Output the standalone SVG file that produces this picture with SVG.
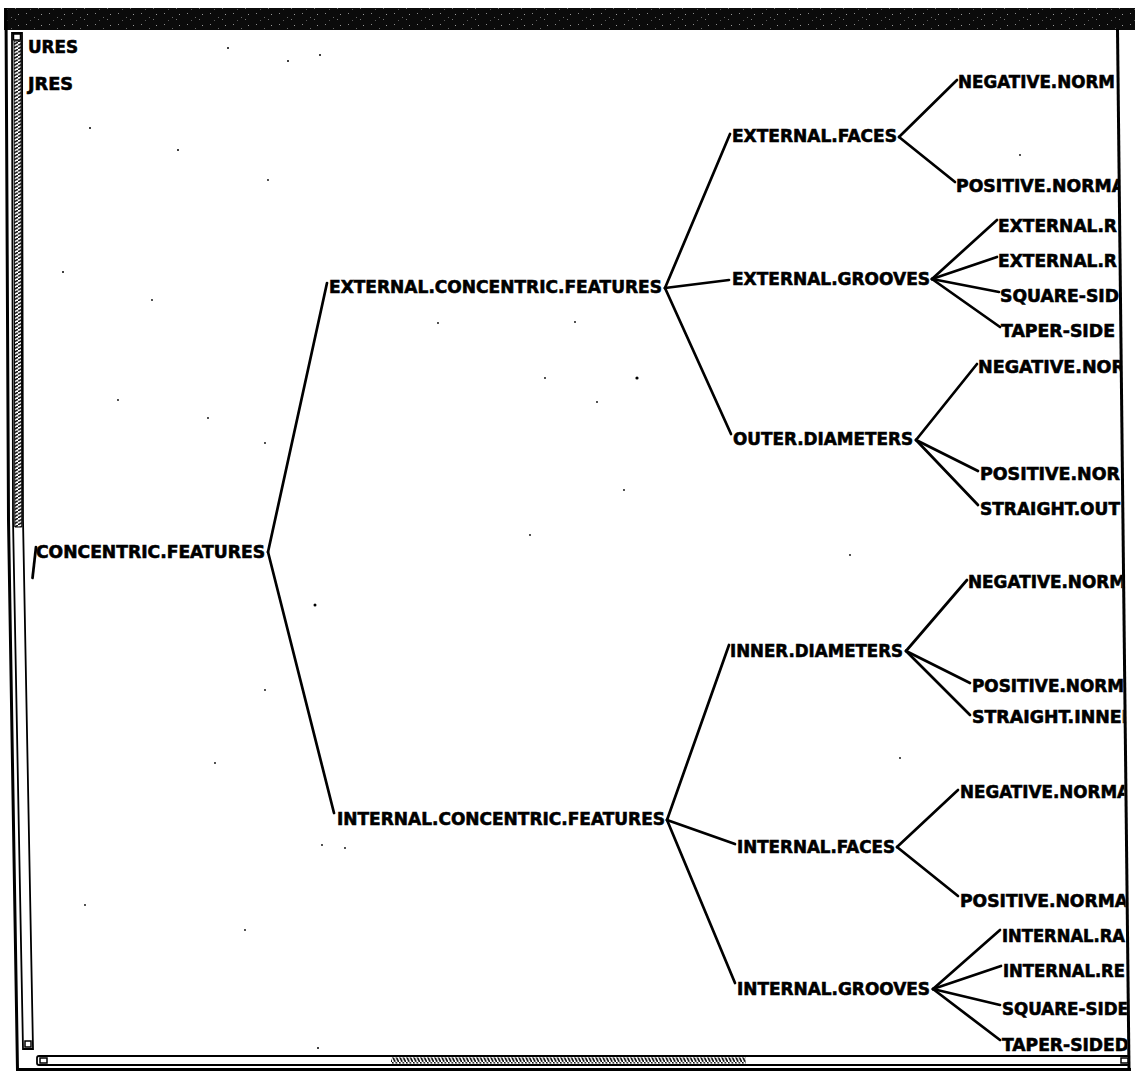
<svg xmlns="http://www.w3.org/2000/svg" width="1135" height="1073" viewBox="0 0 1135 1073">
  <style>
    .lbl { font-family: "DejaVu Sans", "Liberation Sans", sans-serif; font-weight: bold; font-size: 17px; fill: #000; stroke: #000; stroke-width: 0.6; }
    .edge { stroke: #000; stroke-width: 2.7; fill: none; stroke-linecap: round; }
    .frame { stroke: #000; fill: none; stroke-width: 3; }
    .track { stroke: #000; fill: #fff; stroke-width: 1.8; }
    .speck { fill: #000; }
  </style>
  <defs>
    <pattern id="grain" width="23" height="11" patternUnits="userSpaceOnUse">
      <rect width="23" height="11" fill="#0b0b0b"/>
      <rect x="3" y="2" width="1" height="1" fill="#8a8a8a"/>
      <rect x="11" y="6" width="1" height="1" fill="#6a6a6a"/>
      <rect x="18" y="3" width="1" height="1" fill="#9a9a9a"/>
      <rect x="7" y="9" width="1" height="1" fill="#5a5a5a"/>
      <rect x="15" y="8" width="1" height="1" fill="#777"/>
    </pattern>
    <pattern id="hatchV" width="6" height="3.5" patternUnits="userSpaceOnUse">
      <rect width="6" height="3.5" fill="#fff"/>
      <path d="M0,3.2 L6,0.3" stroke="#000" stroke-width="1.6"/>
    </pattern>
    <pattern id="hatchH" width="3.5" height="6" patternUnits="userSpaceOnUse">
      <rect width="3.5" height="6" fill="#fff"/>
      <path d="M0.3,0 L3.2,6" stroke="#000" stroke-width="1.6"/>
    </pattern>
    <clipPath id="pane">
      <polygon points="0,0 1116,0 1127.5,1073 0,1073"/>
    </clipPath>
  </defs>

  <rect width="1135" height="1073" fill="#fff"/>

  <!-- window frame -->
  <g id="window-frame">
    <rect x="4" y="8" width="1131" height="22" fill="url(#grain)"/>
    <polyline class="frame" points="6,8 8.5,520 17.5,1070"/>
    <line class="frame" x1="1117.5" y1="29" x2="1129" y2="1069"/>
    <line class="frame" x1="16" y1="1069.5" x2="1131" y2="1069.5"/>
  </g>

  <!-- vertical scroll bar -->
  <g id="scrollbar-vertical">
    <polygon class="track" points="12,33 22,33 23,520 33,1049 23,1049 13,520"/>
    <polygon points="14,41 21,41 21.8,527 14.8,527" fill="url(#hatchV)" stroke="#000" stroke-width="1"/>
    <rect x="13.5" y="34" width="7" height="6" fill="#fff" stroke="#000" stroke-width="1.5"/>
    <rect x="25" y="1041" width="6" height="6" fill="#fff" stroke="#000" stroke-width="1.5"/>
  </g>

  <!-- horizontal scroll bar -->
  <g id="scrollbar-horizontal">
    <rect class="track" x="37" y="1056" width="1092" height="9" rx="2"/>
    <rect x="391" y="1057.5" width="355" height="6" fill="url(#hatchH)"/>
    <rect x="40" y="1058" width="7" height="5" fill="#fff" stroke="#000" stroke-width="1.5"/>
    <rect x="1121" y="1058" width="7" height="5" fill="#fff" stroke="#000" stroke-width="1.5"/>
  </g>

  <g clip-path="url(#pane)">
    <!-- connectors -->
    <g id="connectors">
      <line class="edge" x1="36" y1="547" x2="32.5" y2="578"/>
      <!-- CONCENTRIC.FEATURES -->
      <line class="edge" x1="268" y1="552" x2="327" y2="283"/>
      <line class="edge" x1="268" y1="552" x2="334" y2="813"/>
      <!-- EXTERNAL.CONCENTRIC.FEATURES -->
      <line class="edge" x1="665" y1="288" x2="730" y2="134"/>
      <line class="edge" x1="665" y1="288" x2="729" y2="280"/>
      <line class="edge" x1="665" y1="288" x2="731" y2="434"/>
      <!-- INTERNAL.CONCENTRIC.FEATURES -->
      <line class="edge" x1="667" y1="820" x2="729" y2="645"/>
      <line class="edge" x1="667" y1="820" x2="735" y2="844"/>
      <line class="edge" x1="667" y1="820" x2="735" y2="983"/>
      <!-- EXTERNAL.FACES -->
      <line class="edge" x1="899" y1="137" x2="957" y2="80"/>
      <line class="edge" x1="899" y1="137" x2="955" y2="182"/>
      <!-- EXTERNAL.GROOVES -->
      <line class="edge" x1="932" y1="279" x2="997" y2="220"/>
      <line class="edge" x1="932" y1="279" x2="997" y2="257"/>
      <line class="edge" x1="932" y1="279" x2="999" y2="292"/>
      <line class="edge" x1="932" y1="279" x2="1000" y2="327"/>
      <!-- OUTER.DIAMETERS -->
      <line class="edge" x1="916" y1="440" x2="977" y2="364"/>
      <line class="edge" x1="916" y1="440" x2="978" y2="471"/>
      <line class="edge" x1="916" y1="440" x2="978" y2="505"/>
      <!-- INNER.DIAMETERS -->
      <line class="edge" x1="906" y1="651" x2="967" y2="580"/>
      <line class="edge" x1="906" y1="651" x2="970" y2="683"/>
      <line class="edge" x1="906" y1="651" x2="970" y2="715"/>
      <!-- INTERNAL.FACES -->
      <line class="edge" x1="897" y1="847" x2="958" y2="790"/>
      <line class="edge" x1="897" y1="847" x2="958" y2="896"/>
      <!-- INTERNAL.GROOVES -->
      <line class="edge" x1="933" y1="989" x2="1000" y2="930"/>
      <line class="edge" x1="933" y1="989" x2="1001" y2="966"/>
      <line class="edge" x1="933" y1="989" x2="1000" y2="1005"/>
      <line class="edge" x1="933" y1="989" x2="1000" y2="1040"/>
    </g>

    <!-- nodes -->
    <g id="node-ures"><text class="lbl" x="28" y="53" textLength="50" lengthAdjust="spacingAndGlyphs">URES</text></g>
    <g id="node-jres"><text class="lbl" x="28" y="90" textLength="45" lengthAdjust="spacingAndGlyphs">JRES</text></g>
    <g id="node-concentric-features"><text class="lbl" x="36" y="558" textLength="229" lengthAdjust="spacingAndGlyphs">CONCENTRIC.FEATURES</text></g>
    <g id="node-external-concentric-features"><text class="lbl" x="329" y="293" textLength="333" lengthAdjust="spacingAndGlyphs">EXTERNAL.CONCENTRIC.FEATURES</text></g>
    <g id="node-internal-concentric-features"><text class="lbl" x="337" y="825" textLength="328" lengthAdjust="spacingAndGlyphs">INTERNAL.CONCENTRIC.FEATURES</text></g>
    <g id="node-external-faces"><text class="lbl" x="732" y="142" textLength="165" lengthAdjust="spacingAndGlyphs">EXTERNAL.FACES</text></g>
    <g id="node-external-grooves"><text class="lbl" x="732" y="285" textLength="198" lengthAdjust="spacingAndGlyphs">EXTERNAL.GROOVES</text></g>
    <g id="node-outer-diameters"><text class="lbl" x="733" y="445" textLength="180" lengthAdjust="spacingAndGlyphs">OUTER.DIAMETERS</text></g>
    <g id="node-inner-diameters"><text class="lbl" x="730" y="657" textLength="173" lengthAdjust="spacingAndGlyphs">INNER.DIAMETERS</text></g>
    <g id="node-internal-faces"><text class="lbl" x="737" y="853" textLength="158" lengthAdjust="spacingAndGlyphs">INTERNAL.FACES</text></g>
    <g id="node-internal-grooves"><text class="lbl" x="737" y="995" textLength="193" lengthAdjust="spacingAndGlyphs">INTERNAL.GROOVES</text></g>

    <g id="node-ef-negative"><text class="lbl" x="958" y="88" textLength="157" lengthAdjust="spacingAndGlyphs">NEGATIVE.NORM</text></g>
    <g id="node-ef-positive"><text class="lbl" x="956" y="192" textLength="169" lengthAdjust="spacingAndGlyphs">POSITIVE.NORMA</text></g>
    <g id="node-eg-external-1"><text class="lbl" x="998" y="232" textLength="119" lengthAdjust="spacingAndGlyphs">EXTERNAL.R</text></g>
    <g id="node-eg-external-2"><text class="lbl" x="998" y="267" textLength="119" lengthAdjust="spacingAndGlyphs">EXTERNAL.R</text></g>
    <g id="node-eg-square"><text class="lbl" x="1000" y="302" textLength="119" lengthAdjust="spacingAndGlyphs">SQUARE-SID</text></g>
    <g id="node-eg-taper"><text class="lbl" x="1001" y="337" textLength="114" lengthAdjust="spacingAndGlyphs">TAPER-SIDE</text></g>
    <g id="node-od-negative"><text class="lbl" x="978" y="373" textLength="147" lengthAdjust="spacingAndGlyphs">NEGATIVE.NOR</text></g>
    <g id="node-od-positive"><text class="lbl" x="980" y="480" textLength="140" lengthAdjust="spacingAndGlyphs">POSITIVE.NOR</text></g>
    <g id="node-od-straight"><text class="lbl" x="980" y="515" textLength="140" lengthAdjust="spacingAndGlyphs">STRAIGHT.OUT</text></g>
    <g id="node-id-negative"><text class="lbl" x="968" y="588" textLength="158" lengthAdjust="spacingAndGlyphs">NEGATIVE.NORM</text></g>
    <g id="node-id-positive"><text class="lbl" x="972" y="692" textLength="152" lengthAdjust="spacingAndGlyphs">POSITIVE.NORM</text></g>
    <g id="node-id-straight"><text class="lbl" x="972" y="723" textLength="163" lengthAdjust="spacingAndGlyphs">STRAIGHT.INNER</text></g>
    <g id="node-if-negative"><text class="lbl" x="960" y="798" textLength="170" lengthAdjust="spacingAndGlyphs">NEGATIVE.NORMA</text></g>
    <g id="node-if-positive"><text class="lbl" x="960" y="907" textLength="168" lengthAdjust="spacingAndGlyphs">POSITIVE.NORMA</text></g>
    <g id="node-ig-internal-1"><text class="lbl" x="1002" y="942" textLength="123" lengthAdjust="spacingAndGlyphs">INTERNAL.RA</text></g>
    <g id="node-ig-internal-2"><text class="lbl" x="1003" y="977" textLength="122" lengthAdjust="spacingAndGlyphs">INTERNAL.RE</text></g>
    <g id="node-ig-square"><text class="lbl" x="1002" y="1015" textLength="127" lengthAdjust="spacingAndGlyphs">SQUARE-SIDE</text></g>
    <g id="node-ig-taper"><text class="lbl" x="1002" y="1051" textLength="127" lengthAdjust="spacingAndGlyphs">TAPER-SIDED</text></g>

    <!-- stray specks on the pane -->
    <g id="specks">
      <circle class="speck" cx="228" cy="48" r="1"/>
      <circle class="speck" cx="288" cy="61" r="1"/>
      <circle class="speck" cx="320" cy="55" r="1"/>
      <circle class="speck" cx="90" cy="128" r="1"/>
      <circle class="speck" cx="178" cy="150" r="1"/>
      <circle class="speck" cx="268" cy="180" r="0.9"/>
      <circle class="speck" cx="63" cy="272" r="1"/>
      <circle class="speck" cx="152" cy="300" r="0.9"/>
      <circle class="speck" cx="118" cy="400" r="0.9"/>
      <circle class="speck" cx="208" cy="418" r="0.9"/>
      <circle class="speck" cx="265" cy="443" r="0.9"/>
      <circle class="speck" cx="438" cy="323" r="0.9"/>
      <circle class="speck" cx="575" cy="322" r="0.9"/>
      <circle class="speck" cx="637" cy="378" r="1.6"/>
      <circle class="speck" cx="545" cy="378" r="0.9"/>
      <circle class="speck" cx="597" cy="402" r="0.9"/>
      <circle class="speck" cx="624" cy="490" r="0.9"/>
      <circle class="speck" cx="530" cy="535" r="0.9"/>
      <circle class="speck" cx="315" cy="605" r="1.5"/>
      <circle class="speck" cx="265" cy="690" r="0.9"/>
      <circle class="speck" cx="215" cy="763" r="0.9"/>
      <circle class="speck" cx="322" cy="845" r="0.9"/>
      <circle class="speck" cx="345" cy="848" r="0.9"/>
      <circle class="speck" cx="85" cy="905" r="0.9"/>
      <circle class="speck" cx="245" cy="930" r="0.9"/>
      <circle class="speck" cx="318" cy="1048" r="1"/>
      <circle class="speck" cx="1020" cy="155" r="0.9"/>
      <circle class="speck" cx="850" cy="555" r="0.9"/>
      <circle class="speck" cx="900" cy="758" r="0.9"/>
    </g>
  </g>
</svg>
